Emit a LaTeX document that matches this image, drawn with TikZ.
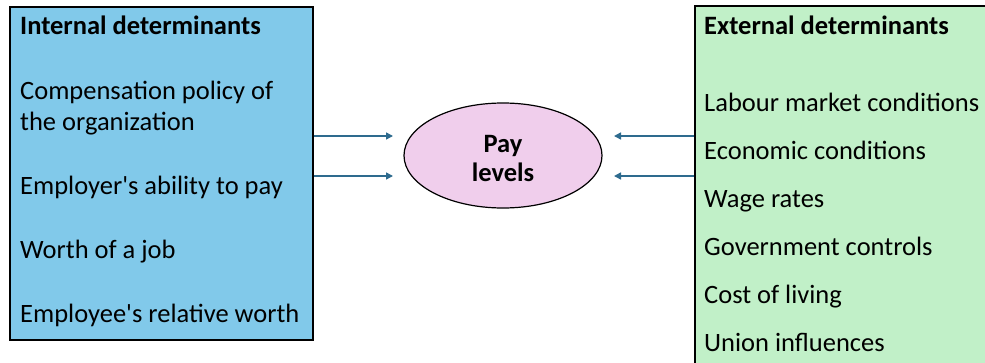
\documentclass[tikz,border=0pt]{standalone}
\usepackage{fontspec}
\setmainfont{Carlito}
\usetikzlibrary{arrows.meta,shapes.geometric}
\definecolor{lblue}{RGB}{129,201,234}
\definecolor{lgreen}{RGB}{193,240,200}
\definecolor{lpink}{RGB}{240,206,236}
\definecolor{arrc}{RGB}{46,107,142}
\tikzset{
  boxL/.style={draw=black, line width=1.5pt, fill=lblue, anchor=north west,
    minimum width=303pt, minimum height=333pt, inner sep=0pt},
  boxR/.style={draw=black, line width=1.5pt, fill=lgreen, anchor=north west,
    minimum width=310pt, minimum height=380pt, inner sep=0pt},
  txt/.style={anchor=base west, inner sep=0pt, font=\fontsize{26.5}{31}\selectfont},
  ttl/.style={anchor=base west, inner sep=0pt, font=\fontsize{26.5}{31}\selectfont\bfseries},
  ctr/.style={anchor=base, inner sep=0pt, font=\fontsize{26.5}{31}\selectfont\bfseries},
  payell/.style={ellipse, draw=black, line width=1.2pt, fill=lpink,
    minimum width=198pt, minimum height=105pt, inner sep=0pt},
  arr/.style={draw=arrc, line width=1.5pt, -{Triangle[length=7pt,width=7pt]}},
}
\begin{document}
\begin{tikzpicture}[x=1pt,y=-1pt]
\useasboundingbox (0,0) rectangle (985,362);
\fill[white] (0,0) rectangle (985,362);
\clip (0,0) rectangle (985,362);

% boxes
\node[boxL] (lbox) at (9,6) {};
\node[boxR] (rbox) at (694,5) {};

% left texts
\node[ttl] (lt) at (20,34) {Internal determinants};
\node[txt] (l1a) at (20,99) {Compensation policy of};
\node[txt] (l1b) at (20,130) {the organization};
\node[txt] (l2) at (20,194) {Employer\textquotesingle s ability to pay};
\node[txt] (l3) at (20,258) {Worth of a job};
\node[txt] (l4) at (20,322) {Employee\textquotesingle s relative worth};

% right texts
\node[ttl] (rt) at (704,34) {External determinants};
\node[txt] (r1) at (704,111) {Labour market conditions};
\node[txt] (r2) at (704,159) {Economic conditions};
\node[txt] (r3) at (704,207) {Wage rates};
\node[txt] (r4) at (704,255) {Government controls};
\node[txt] (r5) at (704,303) {Cost of living};
\node[txt] (r6) at (704,351) {Union influences};

% ellipse
\node[payell] (pay) at (503,155.5) {};
\node[ctr] (pay1) at (503,152) {Pay};
\node[ctr] (pay2) at (503,181) {levels};

% arrows
\coordinate (a1) at (393,136);
\coordinate (a2) at (393,176);
\coordinate (b1) at (614,136);
\coordinate (b2) at (614,176);
\draw[arr] (lbox.east |- a1) -- (a1);
\draw[arr] (lbox.east |- a2) -- (a2);
\draw[arr] (rbox.west |- b1) -- (b1);
\draw[arr] (rbox.west |- b2) -- (b2);
\end{tikzpicture}
\end{document}
